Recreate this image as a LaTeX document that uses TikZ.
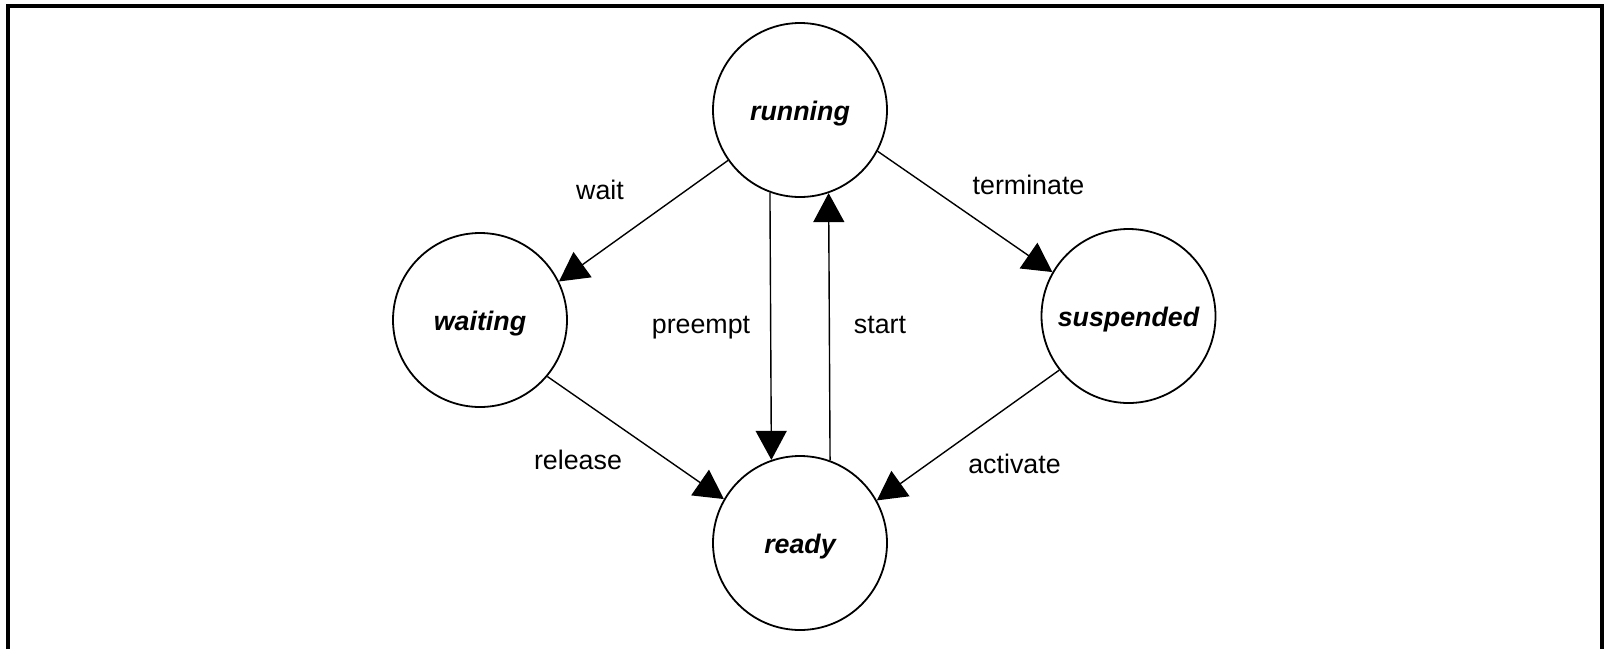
\documentclass[tikz,border=0pt]{standalone}
\usepackage{fontspec}
\setmainfont{Liberation Sans}
\usetikzlibrary{arrows.meta}

\begin{document}
\begin{tikzpicture}[x=0.5pt,y=-0.5pt,
  state/.style={circle,draw,line width=0.9pt,minimum size=87pt,inner sep=0pt,
    font=\fontsize{13.4}{16}\selectfont\bfseries\itshape,
    text height=1.2em,text depth=0.2em},
  trans/.style={line width=0.7pt,-{Triangle[length=14.5pt,width=15.5pt]}},
  tlabel/.style={anchor=base,inner sep=0pt,font=\fontsize{13.4}{16}\selectfont}]
  \useasboundingbox (0,0) rectangle (1606,649);

  % outer frame (open at the bottom edge)
  \draw[line width=2pt] (8,649) -- (8,5.5) -- (1602,5.5) -- (1602,649);

  % states
  \node[state] (running)   at (800,110)    {running};
  \node[state] (waiting)   at (480,320)    {waiting};
  \node[state] (suspended) at (1128.5,316) {suspended};
  \node[state] (ready)     at (800,543)    {ready};

  % transitions
  \draw[trans] (running.215)   -- (waiting.26);
  \draw[trans] (running.332)   -- (suspended.150);
  \draw[trans] (running.250.5) -- (ready.109.5);
  \draw[trans] (ready.70.5)    -- (running.289.5);
  \draw[trans] (waiting.320)   -- (ready.150.5);
  \draw[trans] (suspended.218) -- (ready.29);

  % transition labels
  \node[tlabel] (lwait)      at (600,199)    {wait};
  \node[tlabel] (lterminate) at (1028.5,194) {terminate};
  \node[tlabel] (lpreempt)   at (701,333)    {preempt};
  \node[tlabel] (lstart)     at (880,333)    {start};
  \node[tlabel] (lrelease)   at (578,469)    {release};
  \node[tlabel] (lactivate)  at (1014.5,473) {activate};
\end{tikzpicture}
\end{document}
